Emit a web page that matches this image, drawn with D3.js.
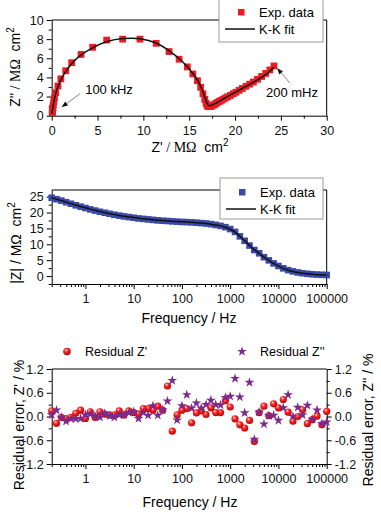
<!DOCTYPE html>
<html>
<head>
<meta charset="utf-8">
<script src="https://cdnjs.cloudflare.com/ajax/libs/d3/7.8.5/d3.min.js"></script>
<style>
  body { margin: 0; background: #fff; }
  svg { display: block; font-family: "Liberation Sans", Arial, sans-serif; }
</style>
</head>
<body>
<div id="wrapper"></div>
<script>
// measured frequencies, high -> low (Hz)
const freq = [100000, 79433, 63096, 50119, 39811, 31623, 25119, 19953, 15849, 12589,
  10000, 7943, 6310, 5012, 3981, 3162, 2512, 1995, 1585, 1259,
  1000, 794.3, 631.0, 501.2, 398.1, 316.2, 251.2, 199.5, 158.5, 125.9,
  100, 79.43, 63.10, 50.12, 39.81, 31.62, 25.12, 19.95, 15.85, 12.59,
  10, 7.943, 6.310, 5.012, 3.981, 3.162, 2.512, 1.995, 1.585, 1.259,
  1, 0.7943, 0.6310, 0.5012, 0.3981, 0.3162, 0.2512, 0.2]

// Z' and Z'' (MOhm cm2)
const zReal = [0.06, 0.07, 0.08, 0.09, 0.11, 0.13, 0.17, 0.22, 0.30, 0.43,
  0.68, 1.00, 1.53, 2.18, 3.20, 4.47, 6.00, 7.74, 9.63, 11.40,
  12.80, 13.90, 14.80, 15.40, 15.90, 16.25, 16.50, 16.70, 16.85, 16.95,
  17.00, 17.10, 17.20, 17.30, 17.40, 17.50, 17.65, 17.80, 17.95, 18.10,
  18.30, 18.50, 18.70, 18.95, 19.20, 19.50, 19.80, 20.10, 20.45, 20.80,
  21.20, 21.60, 22.00, 22.45, 22.90, 23.35, 23.80, 24.25]
const zImag = [0.32, 0.38, 0.46, 0.56, 0.70, 0.88, 1.12, 1.45, 1.85, 2.40,
  3.10, 3.85, 4.70, 5.54, 6.40, 7.15, 7.90, 8.00, 8.00, 7.56,
  6.70, 5.90, 5.10, 4.36, 3.66, 2.97, 2.30, 1.70, 1.30, 1.10,
  1.00, 0.97, 0.95, 0.96, 1.00, 1.07, 1.12, 1.20, 1.30, 1.40,
  1.50, 1.60, 1.72, 1.85, 1.98, 2.12, 2.30, 2.45, 2.65, 2.85,
  3.07, 3.30, 3.52, 3.80, 4.10, 4.42, 4.78, 5.20]
const zModulus = [0.33, 0.39, 0.47, 0.57, 0.71, 0.89, 1.13, 1.47, 1.87, 2.44,
  3.17, 3.98, 4.94, 5.95, 7.17, 8.20, 9.60, 11.10, 12.50, 13.90,
  14.80, 15.40, 15.80, 16.10, 16.35, 16.55, 16.68, 16.80, 16.90, 16.99,
  17.03, 17.13, 17.23, 17.33, 17.43, 17.53, 17.69, 17.84, 18.00, 18.15,
  18.36, 18.57, 18.78, 19.04, 19.30, 19.62, 19.93, 20.25, 20.62, 21.00,
  21.42, 21.85, 22.28, 22.77, 23.26, 23.76, 24.20, 24.65]

// Kramers-Kronig fit
const fitReal = [0.02, 0.03, 0.05, 0.07, 0.09, 0.12, 0.16, 0.22, 0.31, 0.45,
  0.70, 1.05, 1.58, 2.25, 3.25, 4.52, 6.05, 7.78, 9.65, 11.40,
  12.82, 13.92, 14.80, 15.42, 15.92, 16.28, 16.55, 16.75, 16.90, 17.00,
  17.07, 17.15, 17.24, 17.34, 17.45, 17.56, 17.70, 17.85, 18.00, 18.16,
  18.35, 18.55, 18.76, 19.00, 19.26, 19.55, 19.86, 20.18, 20.52, 20.88,
  21.26, 21.66, 22.07, 22.50, 22.93, 23.37, 23.80, 24.22]
const fitImag = [0.25, 0.32, 0.41, 0.52, 0.66, 0.84, 1.08, 1.40, 1.82, 2.38,
  3.08, 3.84, 4.68, 5.52, 6.38, 7.12, 7.75, 8.06, 8.05, 7.60,
  6.78, 5.95, 5.12, 4.38, 3.68, 3.00, 2.36, 1.82, 1.44, 1.22,
  1.10, 1.06, 1.05, 1.07, 1.10, 1.15, 1.21, 1.28, 1.36, 1.45,
  1.55, 1.66, 1.78, 1.91, 2.05, 2.20, 2.36, 2.53, 2.71, 2.90,
  3.10, 3.31, 3.53, 3.77, 4.03, 4.32, 4.65, 5.05]
const fitModulus = [0.30, 0.36, 0.44, 0.55, 0.69, 0.87, 1.10, 1.44, 1.85, 2.42,
  3.15, 3.98, 4.94, 5.96, 7.16, 8.25, 9.65, 11.15, 12.50, 13.85,
  14.75, 15.38, 15.80, 16.10, 16.35, 16.55, 16.70, 16.82, 16.93, 17.03,
  17.10, 17.18, 17.27, 17.37, 17.48, 17.60, 17.74, 17.89, 18.05, 18.22,
  18.42, 18.62, 18.84, 19.09, 19.36, 19.67, 19.99, 20.33, 20.70, 21.08,
  21.48, 21.91, 22.35, 22.82, 23.29, 23.76, 24.22, 24.68]

// residuals (%)
const residReal = [0.13, -0.21, 0.01, -0.08, -0.18, 0.17, 0.00, -0.12, 0.11, 0.43,
  0.22, 0.32, 0.02, 0.26, 0.10, -0.63, -0.10, -0.29, -0.21, -0.06,
  0.24, 0.40, 0.10, 0.10, 0.22, 0.05, 0.14, 0.09, -0.16, 0.20,
  0.16, 0.04, -0.37, 0.77, 0.16, 0.26, 0.16, 0.20, 0.20, 0.06,
  0.10, 0.14, 0.04, 0.14, 0.04, 0.04, 0.06, 0.12, -0.02, 0.12,
  -0.05, 0.16, 0.08, -0.02, -0.05, -0.02, -0.17, 0.14]
const residImag = [-0.14, -0.18, 0.16, -0.07, 0.28, 0.04, 0.23, 0.00, 0.55, 0.22,
  -0.10, 0.03, 0.02, -0.19, 0.11, -0.58, 0.86, 0.09, 0.49, 0.96,
  0.51, 0.48, 0.29, 0.30, 0.41, 0.30, 0.21, 0.34, 0.21, 0.55,
  0.27, -0.09, 0.91, 0.39, 0.17, 0.03, 0.27, 0.03, 0.10, -0.05,
  0.12, 0.10, 0.04, 0.04, -0.02, 0.02, 0.08, -0.02, 0.01, 0.06,
  0.04, -0.05, -0.06, -0.06, -0.12, -0.02, 0.16, 0.04]

// tick labels
const nyqXTicks = [0, 5, 10, 15, 20, 25, 30]
const nyqXMinor = [2.5, 7.5, 12.5, 17.5, 22.5, 27.5]
const nyqYTicks = [0, 2, 4, 6, 8, 10]
const nyqYMinor = [1, 3, 5, 7, 9]
const freqTicks = [1, 10, 100, 1000, 10000, 100000]
const modTicks = [0, 5, 10, 15, 20, 25]
const modMinor = [-2.5, 2.5, 7.5, 12.5, 17.5, 22.5]
const resTicks = [-1.2, -0.6, 0, 0.6, 1.2]
const resMinor = [-0.9, -0.3, 0.3, 0.9]

const dimensions = {
  width: 381,
  height: 513,
  left: 51.7,
  right: 326.7,
  nyq: { top: 20, bottom: 115.7 },
  mod: { top: 190, bottom: 284 },
  res: { top: 369, bottom: 464 },
}

const red = "#ec1c24"
const blue = "#3b4aa6"
const purple = "#7b2a8c"

const wrapper = d3.select("#wrapper")
  .append("svg")
    .attr("width", dimensions.width)
    .attr("height", dimensions.height)

wrapper.append("rect")
  .attr("width", dimensions.width)
  .attr("height", dimensions.height)
  .attr("fill", "#fff")

const defs = wrapper.append("defs")
const ball = defs.append("radialGradient").attr("id", "ball")
  .attr("cx", "45%").attr("cy", "40%").attr("r", "60%")
  .attr("fx", "35%").attr("fy", "30%")
ball.append("stop").attr("offset", "0%").attr("stop-color", "#ffe4e4")
ball.append("stop").attr("offset", "40%").attr("stop-color", "#ff2a2a")
ball.append("stop").attr("offset", "100%").attr("stop-color", "#b80000")

defs.append("marker").attr("id", "arrow")
  .attr("viewBox", "0 0 10 10").attr("refX", 10).attr("refY", 5)
  .attr("markerUnits", "userSpaceOnUse")
  .attr("markerWidth", 7).attr("markerHeight", 6).attr("orient", "auto")
  .append("path").attr("d", "M0,1L10,5L0,9Z").attr("fill", "#111")

// helpers
function styleAxis(g) {
  g.selectAll("path.domain").attr("stroke", "#000").attr("stroke-width", 1)
  g.selectAll(".tick line").attr("stroke", "#000")
  g.selectAll(".tick text").attr("fill", "#111").style("font-size", "12.5px")
    .style("font-family", "'Liberation Sans', Arial, sans-serif")
}
function minorTicks(g, axis, values) {
  g.append("g").call(axis.tickValues(values).tickSize(3).tickFormat(""))
    .call(a => a.select("path.domain").remove())
    .selectAll(".tick line").attr("stroke", "#000")
}
function frameLines(top, bottom) {
  wrapper.append("path")
    .attr("d", `M${dimensions.left},${top}H${dimensions.right}V${bottom}`)
    .attr("fill", "none").attr("stroke", "#000")
}
function legendBox(x, y, w, h, color) {
  const lg = wrapper.append("g")
  lg.append("rect").attr("x", x).attr("y", y).attr("width", w).attr("height", h)
    .attr("fill", "#fff").attr("stroke", "#999")
  lg.append("rect").attr("x", x + 19).attr("y", y + 11).attr("width", 6.5).attr("height", 6.5).attr("fill", color)
  lg.append("text").attr("x", x + 40).attr("y", y + 19).text("Exp. data").style("font-size", "13px")
  lg.append("line").attr("x1", x + 6).attr("x2", x + 36).attr("y1", y + 31).attr("y2", y + 31)
    .attr("stroke", "#111").attr("stroke-width", 1.5)
  lg.append("text").attr("x", x + 40).attr("y", y + 35.5).text("K-K fit").style("font-size", "13px")
}
function unitLabel(el, serif) {
  // "/ MΩ" drawn with a serif face in the Nyquist labels, like the original figure
  const face = serif ? "'Liberation Serif', 'Times New Roman', serif" : null
  el.append("tspan").text(" / ").style("font-family", face)
  el.append("tspan").text("MΩ").style("font-family", face)
  el.append("tspan").text("\u00a0\u00a0cm")
  el.append("tspan").text("2").attr("dy", -6).style("font-size", "10px")
}

const idx = d3.range(freq.length)

// ---------------- panel 1 : Nyquist ----------------
const nx = d3.scaleLinear().domain([0, 30]).range([dimensions.left, dimensions.right])
const ny = d3.scaleLinear().domain([0, 10]).range([dimensions.nyq.bottom, dimensions.nyq.top])

frameLines(dimensions.nyq.top, dimensions.nyq.bottom)

const nyqX = wrapper.append("g").attr("transform", `translate(0,${dimensions.nyq.bottom})`)
nyqX.call(d3.axisBottom(nx).tickValues(nyqXTicks).tickSize(5).tickSizeOuter(0).tickPadding(5))
minorTicks(nyqX, d3.axisBottom(nx), nyqXMinor)
styleAxis(nyqX)

const nyqY = wrapper.append("g").attr("transform", `translate(${dimensions.left},0)`)
nyqY.call(d3.axisLeft(ny).tickValues(nyqYTicks).tickSize(5).tickSizeOuter(0).tickPadding(3))
minorTicks(nyqY, d3.axisLeft(ny), nyqYMinor)
styleAxis(nyqY)

wrapper.append("g").selectAll("rect")
  .data(idx)
  .join("rect")
    .attr("x", i => nx(zReal[i]) - 3.4)
    .attr("y", i => ny(zImag[i]) - 3.4)
    .attr("width", 6.8)
    .attr("height", 6.8)
    .attr("fill", red)

const nyqLine = d3.line()
  .x(i => nx(fitReal[i]))
  .y(i => ny(fitImag[i]))
  .curve(d3.curveCatmullRom)
wrapper.append("path").datum(idx).attr("d", nyqLine)
  .attr("fill", "none").attr("stroke", "#111").attr("stroke-width", 1.5)

// annotations
wrapper.append("line")
  .attr("x1", nx(3.1)).attr("y1", ny(2.3)).attr("x2", nx(1.1)).attr("y2", ny(0.9))
  .attr("stroke", "#666").attr("stroke-width", 0.8).attr("marker-end", "url(#arrow)")
wrapper.append("text").attr("x", nx(3.65)).attr("y", ny(2.27)).text("100 kHz").style("font-size", "13px")
wrapper.append("line")
  .attr("x1", nx(26.0)).attr("y1", ny(3.4)).attr("x2", nx(24.6)).attr("y2", ny(4.95))
  .attr("stroke", "#666").attr("stroke-width", 0.8).attr("marker-end", "url(#arrow)")
wrapper.append("text").attr("x", nx(23.37)).attr("y", ny(1.95)).text("200 mHz").style("font-size", "13px")

legendBox(219, -2, 104, 44, red)

const nyqXLabel = wrapper.append("text").attr("x", 190).attr("y", 152)
  .attr("text-anchor", "middle").style("font-size", "14px")
nyqXLabel.append("tspan").text("Z'")
unitLabel(nyqXLabel, true)

const nyqYLabel = wrapper.append("text")
  .attr("transform", "translate(20,67) rotate(-90)")
  .attr("text-anchor", "middle").style("font-size", "14px")
nyqYLabel.append("tspan").text("Z''")
unitLabel(nyqYLabel, true)

// ---------------- panel 2 : |Z| vs frequency ----------------
const fx = d3.scaleLog().domain([0.2, 100000]).range([dimensions.left, dimensions.right])
const fMinor = fx.ticks().filter(f => !freqTicks.includes(f))
const my = d3.scaleLinear().domain([-2.5, 27.1]).range([dimensions.mod.bottom, dimensions.mod.top])

frameLines(dimensions.mod.top, dimensions.mod.bottom)

const modX = wrapper.append("g").attr("transform", `translate(0,${dimensions.mod.bottom})`)
modX.call(d3.axisBottom(fx).tickValues(freqTicks).tickFormat(d => d).tickSize(5).tickSizeOuter(0).tickPadding(5))
minorTicks(modX, d3.axisBottom(fx), fMinor)
styleAxis(modX)

const modY = wrapper.append("g").attr("transform", `translate(${dimensions.left},0)`)
modY.call(d3.axisLeft(my).tickValues(modTicks).tickSize(5).tickSizeOuter(0).tickPadding(3))
minorTicks(modY, d3.axisLeft(my), modMinor)
styleAxis(modY)

wrapper.append("g").selectAll("rect")
  .data(idx)
  .join("rect")
    .attr("x", i => fx(freq[i]) - 3.3)
    .attr("y", i => my(zModulus[i]) - 3.3)
    .attr("width", 6.6)
    .attr("height", 6.6)
    .attr("fill", blue)

const modLine = d3.line()
  .x(i => fx(freq[i]))
  .y(i => my(fitModulus[i]))
  .curve(d3.curveMonotoneX)
wrapper.append("path").datum(idx).attr("d", modLine)
  .attr("fill", "none").attr("stroke", "#111").attr("stroke-width", 1.5)

legendBox(220, 178, 103, 41, blue)

wrapper.append("text").attr("x", 189).attr("y", 323)
  .attr("text-anchor", "middle").style("font-size", "14px").text("Frequency / Hz")

const modYLabel = wrapper.append("text")
  .attr("transform", "translate(21,243) rotate(-90)")
  .attr("text-anchor", "middle").style("font-size", "14px")
modYLabel.append("tspan").text("|Z|")
unitLabel(modYLabel, false)

// ---------------- panel 3 : residuals ----------------
const ry = d3.scaleLinear().domain([-1.2, 1.2]).range([dimensions.res.bottom, dimensions.res.top])

wrapper.append("line")
  .attr("x1", dimensions.left).attr("x2", dimensions.right)
  .attr("y1", dimensions.res.top).attr("y2", dimensions.res.top)
  .attr("stroke", "#000")

const resX = wrapper.append("g").attr("transform", `translate(0,${dimensions.res.bottom})`)
resX.call(d3.axisBottom(fx).tickValues(freqTicks).tickFormat(d => d).tickSize(5).tickSizeOuter(0).tickPadding(5))
minorTicks(resX, d3.axisBottom(fx), fMinor)
styleAxis(resX)

const resYL = wrapper.append("g").attr("transform", `translate(${dimensions.left},0)`)
resYL.call(d3.axisLeft(ry).tickValues(resTicks).tickFormat(d => d.toFixed(1)).tickSize(5).tickSizeOuter(0).tickPadding(3))
minorTicks(resYL, d3.axisLeft(ry), resMinor)
styleAxis(resYL)

const resYR = wrapper.append("g").attr("transform", `translate(${dimensions.right},0)`)
resYR.call(d3.axisRight(ry).tickValues(resTicks).tickFormat(d => d.toFixed(1)).tickSize(5).tickSizeOuter(0).tickPadding(3))
minorTicks(resYR, d3.axisRight(ry), resMinor)
styleAxis(resYR)

const star = d3.symbol().type(d3.symbolStar).size(30)

wrapper.append("g").selectAll("circle")
  .data(idx)
  .join("circle")
    .attr("cx", i => fx(freq[i]))
    .attr("cy", i => ry(residReal[i]))
    .attr("r", 3.6)
    .attr("fill", "url(#ball)")

wrapper.append("g").selectAll("path")
  .data(idx)
  .join("path")
    .attr("d", star)
    .attr("transform", i => `translate(${fx(freq[i])},${ry(residImag[i])})`)
    .attr("fill", purple)

// legend (no box)
wrapper.append("circle").attr("cx", 67).attr("cy", 351.5).attr("r", 3.8).attr("fill", "url(#ball)")
wrapper.append("text").attr("x", 85).attr("y", 356).text("Residual Z'").style("font-size", "12.5px")
wrapper.append("path").attr("d", star).attr("transform", "translate(242,351.5)").attr("fill", purple)
wrapper.append("text").attr("x", 260).attr("y", 356).text("Residual Z''").style("font-size", "12.5px")

wrapper.append("text").attr("x", 190).attr("y", 507)
  .attr("text-anchor", "middle").style("font-size", "14px").text("Frequency / Hz")

wrapper.append("text")
  .attr("transform", "translate(24,425) rotate(-90)")
  .attr("text-anchor", "middle").style("font-size", "14px")
  .text("Residual error, Z' / %")
wrapper.append("text")
  .attr("transform", "translate(373,420) rotate(-90)")
  .attr("text-anchor", "middle").style("font-size", "14px")
  .text("Residual error, Z'' / %")
</script>
</body>
</html>
